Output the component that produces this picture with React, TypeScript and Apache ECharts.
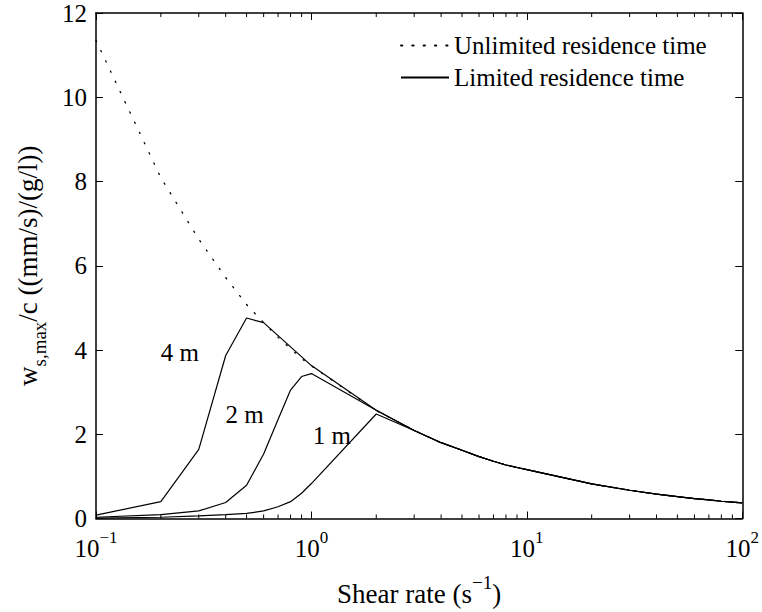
import React, { useEffect, useRef } from 'react';
import * as echarts from 'echarts';

const FONT = "'Liberation Serif', 'Times New Roman', serif";

// Unlimited residence time (envelope)
const unlimitedX = [0.1, 0.2, 0.3, 0.4, 0.5, 0.6, 0.7, 0.8, 0.9, 1, 2, 3, 4, 5, 6, 7, 8, 9, 10, 20, 30, 40, 50, 60, 70, 80, 90, 100];
const unlimitedY = [11.35, 8.09, 6.63, 5.72, 5.08, 4.65, 4.3, 4.03, 3.8, 3.62, 2.56, 2.09, 1.8, 1.62, 1.47, 1.36, 1.27, 1.21, 1.16, 0.82, 0.67, 0.58, 0.52, 0.47, 0.44, 0.41, 0.39, 0.37];

// shared tail of the limited curves (x >= 3)
const tailX = [3, 4, 5, 6, 7, 8, 9, 10, 20, 30, 40, 50, 60, 70, 80, 90, 100];
const tailY = [2.09, 1.8, 1.62, 1.47, 1.36, 1.27, 1.21, 1.16, 0.82, 0.67, 0.58, 0.52, 0.47, 0.44, 0.41, 0.39, 0.37];

// Limited residence time, 4 m
const m4X = [0.1, 0.2, 0.3, 0.4, 0.5, 0.6, 1, 2];
const m4Y = [0.08, 0.4, 1.64, 3.87, 4.76, 4.65, 3.63, 2.57];
// Limited residence time, 2 m
const m2X = [0.1, 0.2, 0.3, 0.4, 0.5, 0.6, 0.7, 0.8, 0.9, 1, 2];
const m2Y = [0.03, 0.09, 0.18, 0.38, 0.79, 1.53, 2.35, 3.05, 3.37, 3.44, 2.57];
// Limited residence time, 1 m
const m1X = [0.1, 0.2, 0.3, 0.4, 0.5, 0.6, 0.7, 0.8, 0.9, 1, 2];
const m1Y = [0.01, 0.03, 0.06, 0.09, 0.12, 0.18, 0.28, 0.4, 0.6, 0.83, 2.48];

// curve labels: [text, x, y]
const curveLabels: [string, number, number][] = [
  ['4 m', 0.245, 3.94],
  ['2 m', 0.49, 2.48],
  ['1 m', 1.245, 1.98],
];

// log minor ticks
const minorTicks = [0.2, 0.3, 0.4, 0.5, 0.6, 0.7, 0.8, 0.9, 2, 3, 4, 5, 6, 7, 8, 9, 20, 30, 40, 50, 60, 70, 80, 90];

const yTicks = { min: 0, max: 12, interval: 2 };

const zip = (xs: number[], ys: number[]) => xs.map((x, i) => [x, ys[i]]);

export default function App() {
  const ref = useRef<HTMLDivElement>(null);
  useEffect(() => {
    if (!ref.current) return;
    const chart = echarts.init(ref.current, null, { renderer: 'svg' });
    const solid = { color: '#000', width: 1.2, type: 'solid' as const };
    const labelSeries = (idx: number) => ({
      symbol: 'circle',
      symbolSize: 0,
      itemStyle: { color: 'transparent' },
      label: {
        show: true,
        position: 'inside',
        formatter: curveLabels[idx][0],
        color: '#000',
        fontSize: 25,
        fontFamily: FONT,
      },
      data: [{ coord: [curveLabels[idx][1], curveLabels[idx][2]] }],
    });
    const axisLineStyle = { color: '#000', width: 1.5 };
    const xAxisBase = {
      type: 'log' as const,
      logBase: 10,
      min: 0.1,
      max: 100,
      splitLine: { show: false },
      axisLine: { show: true, onZero: false, lineStyle: axisLineStyle },
      axisTick: { show: true, inside: true, length: 7, lineStyle: { color: '#000', width: 1 } },
    };
    const yAxisBase = {
      type: 'value' as const,
      min: yTicks.min,
      max: yTicks.max,
      interval: yTicks.interval,
      splitLine: { show: false },
      axisLine: { show: true, onZero: false, lineStyle: axisLineStyle },
      axisTick: { show: true, inside: true, length: 7, lineStyle: { color: '#000', width: 1 } },
    };
    const main = { fontSize: 25, fontFamily: FONT, color: '#000', lineHeight: 40, verticalAlign: 'middle' };
    const sup = { fontSize: 17, fontFamily: FONT, color: '#000', lineHeight: 12, verticalAlign: 'top' };
    const tMain = { fontSize: 27, fontFamily: FONT, color: '#000', lineHeight: 42, verticalAlign: 'middle' };
    const tSup = { fontSize: 19, fontFamily: FONT, color: '#000', lineHeight: 12, verticalAlign: 'top' };
    const tSub = { fontSize: 19, fontFamily: FONT, color: '#000', lineHeight: 12, verticalAlign: 'bottom' };
    chart.setOption({
      animation: false,
      backgroundColor: '#fff',
      textStyle: { fontFamily: FONT },
      grid: { left: 96, right: 18, top: 13, bottom: 90, containLabel: false },
      legend: {
        data: ['Unlimited residence time', 'Limited residence time'],
        orient: 'vertical',
        left: 395,
        top: 28,
        itemWidth: 48,
        itemHeight: 14,
        itemGap: 7,
        itemStyle: { color: 'transparent', borderWidth: 0, opacity: 0 },
        textStyle: { fontFamily: FONT, fontSize: 25, color: '#000' },
        selectedMode: false,
      },
      xAxis: [
        {
          ...xAxisBase,
          position: 'bottom',
          axisLabel: {
            margin: 10,
            fontFamily: FONT,
            fontSize: 25,
            formatter: (v: number) => {
              const e = Math.round(Math.log10(v));
              return `{b|10}{s|${e < 0 ? '\u2212' : ''}${Math.abs(e)}}`;
            },
            rich: { b: main, s: sup },
          },
          name: '{n|Shear rate (s}{s|\u22121}{n|)}',
          nameLocation: 'middle',
          nameGap: 54,
          nameTextStyle: { fontFamily: FONT, fontSize: 27, rich: { n: tMain, s: tSup } },
        },
        { ...xAxisBase, position: 'top', axisLabel: { show: false } },
      ],
      yAxis: [
        {
          ...yAxisBase,
          position: 'left',
          axisLabel: { margin: 9, fontSize: 25, fontFamily: FONT, color: '#000' },
          name: '{n|w}{d|s,max}{n|/c ((mm/s)/(g/l))}',
          nameLocation: 'middle',
          nameGap: 47,
          nameTextStyle: { fontFamily: FONT, fontSize: 27, rich: { n: tMain, d: tSub } },
        },
        { ...yAxisBase, position: 'right', axisLabel: { show: false } },
      ],
      series: [
        {
          name: 'Unlimited residence time',
          type: 'line',
          symbol: 'none',
          showSymbol: false,
          color: '#000',
          lineStyle: { color: '#000', width: 1.3, type: [1.3, 10], cap: 'round' },
          data: zip(unlimitedX, unlimitedY),
          z: 2,
        },
        {
          name: 'Limited residence time',
          type: 'line',
          symbol: 'none',
          showSymbol: false,
          color: '#000',
          lineStyle: solid,
          data: zip([...m4X, ...tailX], [...m4Y, ...tailY]),
          markPoint: labelSeries(0),
          z: 3,
        },
        {
          name: 'Limited residence time',
          type: 'line',
          symbol: 'none',
          showSymbol: false,
          color: '#000',
          lineStyle: solid,
          data: zip([...m2X, ...tailX], [...m2Y, ...tailY]),
          markPoint: labelSeries(1),
          z: 3,
        },
        {
          name: 'Limited residence time',
          type: 'line',
          symbol: 'none',
          showSymbol: false,
          color: '#000',
          lineStyle: solid,
          data: zip([...m1X, ...tailX], [...m1Y, ...tailY]),
          markPoint: labelSeries(2),
          z: 3,
        },
        {
          name: 'minor ticks',
          type: 'custom',
          silent: true,
          data: minorTicks.map((v) => [v, 0]),
          encode: { x: 0, y: 1 },
          renderItem: (params: any, api: any) => {
            const x = api.coord([api.value(0), 0])[0];
            const cs = params.coordSys;
            return {
              type: 'group',
              children: [
                { type: 'line', shape: { x1: x, y1: cs.y + cs.height, x2: x, y2: cs.y + cs.height - 4 }, style: { stroke: '#000', lineWidth: 1 } },
                { type: 'line', shape: { x1: x, y1: cs.y, x2: x, y2: cs.y + 4 }, style: { stroke: '#000', lineWidth: 1 } },
              ],
            };
          },
          z: 4,
        },
      ],
    });
    return () => chart.dispose();
  }, []);
  return (
    <div
      ref={ref}
      style={{ position: 'fixed', left: 0, top: 0, width: 762, height: 612, background: '#fff' }}
    />
  );
}
